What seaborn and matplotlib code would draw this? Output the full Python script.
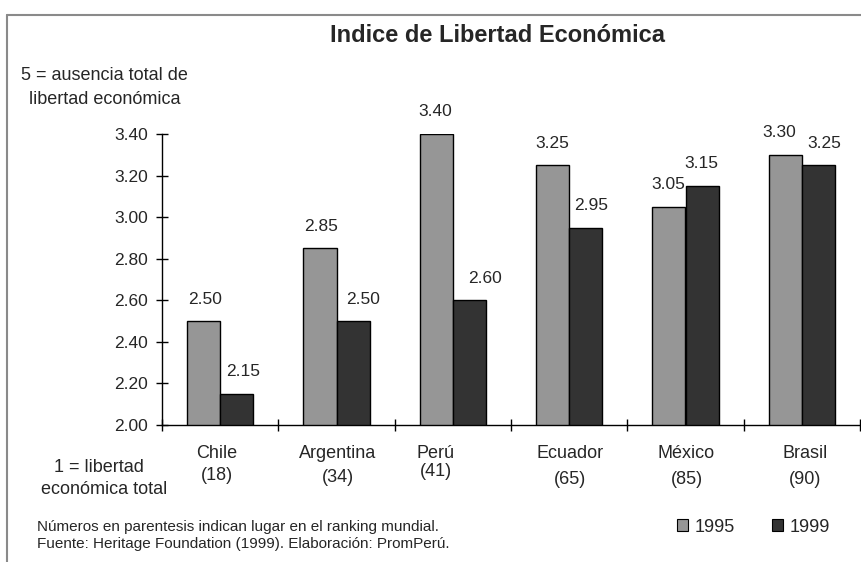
import numpy as np
import pandas as pd
import matplotlib
matplotlib.use("Agg")
import matplotlib.pyplot as plt
import matplotlib.transforms as mtransforms
from matplotlib.lines import Line2D
from matplotlib.patches import Patch
import seaborn as sns

# ---- data ----
countries = ["Chile", "Argentina", "Perú", "Ecuador", "México", "Brasil"]
ranking = ["(18)", "(34)", "(41)", "(65)", "(85)", "(90)"]
years = ["1995", "1999"]
values_1995 = [2.50, 2.85, 3.40, 3.25, 3.05, 3.30]
values_1999 = [2.15, 2.50, 2.60, 2.95, 3.15, 3.25]
y_ticks = [2.00, 2.20, 2.40, 2.60, 2.80, 3.00, 3.20, 3.40]

# ---- layout tweaks (pixels) ----
name_dx = [-3, 1, -17, 1, 1, 3]
rank_y = [475, 478, 471, 479, 480, 480]
label_dx = {"1995": [1, 1, -1, 0, -1, -6], "1999": [6, 10, 16, 5, -1, 6]}

colors = {"1995": "#969696", "1999": "#333333"}

df = pd.DataFrame({
    "pais": countries * 2,
    "anio": [years[0]] * len(countries) + [years[1]] * len(countries),
    "indice": values_1995 + values_1999,
})

sns.set_theme(style="white")
plt.rcParams["font.family"] = ["Liberation Sans", "DejaVu Sans"]

W, H = 861, 562
fig = plt.figure(figsize=(W / 100, H / 100), dpi=100)
fig.patch.set_facecolor("white")


def fx(px):
    return px / W


def fy(py):
    return 1 - py / H


ax = fig.add_axes([fx(162), fy(425), (860 - 162) / W, (425 - 134) / H])
sns.barplot(data=df, x="pais", y="indice", hue="anio", hue_order=years,
            palette=colors, width=0.57, edgecolor="black", linewidth=1,
            saturation=1, ax=ax)

ax.set_ylim(2.0, 3.4)
ax.set_xlim(-0.5, len(countries) - 0.5)
ax.set_xlabel("")
ax.set_ylabel("")
for side in ("top", "right"):
    ax.spines[side].set_visible(False)
for side in ("left", "bottom"):
    ax.spines[side].set_color("black")
    ax.spines[side].set_linewidth(1)

ax.set_yticks(y_ticks)
ax.set_yticklabels([f"{v:.2f}" for v in y_ticks], fontsize=12.5)
ax.tick_params(axis="y", direction="inout", length=8, width=1,
               color="black", pad=6, left=True)
ax.set_xticks(range(len(countries)))
ax.set_xticklabels([])
ax.tick_params(axis="x", which="major", length=0)
ax.set_xticks(np.arange(-0.5, len(countries), 1), minor=True)
ax.tick_params(axis="x", which="minor", direction="inout", length=8,
               width=1, color="black", bottom=True)

if ax.get_legend() is not None:
    ax.get_legend().remove()

# value labels above bars
for year, cont in zip(years, ax.containers):
    for i, bar in enumerate(cont):
        h = bar.get_height()
        xc = bar.get_x() + bar.get_width() / 2
        ax.annotate(f"{h:.2f}", xy=(xc, h), xytext=(label_dx[year][i], 22),
                    textcoords="offset pixels", ha="center", va="center",
                    fontsize=12.5, annotation_clip=False)

# category labels with ranking
trans = mtransforms.blended_transform_factory(ax.transData, fig.transFigure)
for i, (name, rk) in enumerate(zip(countries, ranking)):
    ax.annotate(name, xy=(i, fy(454)), xycoords=trans, xytext=(name_dx[i], 0),
                textcoords="offset pixels", ha="center", va="center",
                fontsize=13, annotation_clip=False)
    ax.annotate(rk, xy=(i, fy(rank_y[i])), xycoords=trans,
                xytext=(name_dx[i], 0), textcoords="offset pixels",
                ha="center", va="center", fontsize=13, annotation_clip=False)

# titles and notes
fig.text(fx(498), fy(36), "Indice de Libertad Económica", ha="center",
         va="center", fontsize=17, fontweight="bold")
fig.text(fx(104), fy(76), "5 = ausencia total de", ha="center", va="center",
         fontsize=13)
fig.text(fx(105), fy(100), "libertad económica", ha="center", va="center",
         fontsize=13)
fig.text(fx(99), fy(467), "1 = libertad", ha="center", va="center",
         fontsize=13)
fig.text(fx(104), fy(490), "económica total", ha="center", va="center",
         fontsize=13)
fig.text(fx(37), fy(527),
         "Números en parentesis indican lugar en el ranking mundial.",
         ha="left", va="center", fontsize=11)
fig.text(fx(37), fy(544),
         "Fuente: Heritage Foundation (1999). Elaboración: PromPerú.",
         ha="left", va="center", fontsize=11)

# legend
handles = [Patch(facecolor=colors[y], edgecolor="black", linewidth=0.8)
           for y in years]
fig.legend(handles, years, loc="center left",
           bbox_to_anchor=(fx(677), fy(527)), ncol=2, frameon=False,
           handlelength=0.6, handleheight=0.6, handletextpad=0.35,
           columnspacing=2.1, fontsize=13, borderpad=0, borderaxespad=0)

# chart frame
fig.add_artist(Line2D([fx(7), fx(7)], [fy(15), 0], color="#8a8a8a", lw=1.5,
                      transform=fig.transFigure))
fig.add_artist(Line2D([fx(7), 1], [fy(15), fy(15)], color="#8a8a8a", lw=1.5,
                      transform=fig.transFigure))

fig.savefig("out.png", dpi=100)
